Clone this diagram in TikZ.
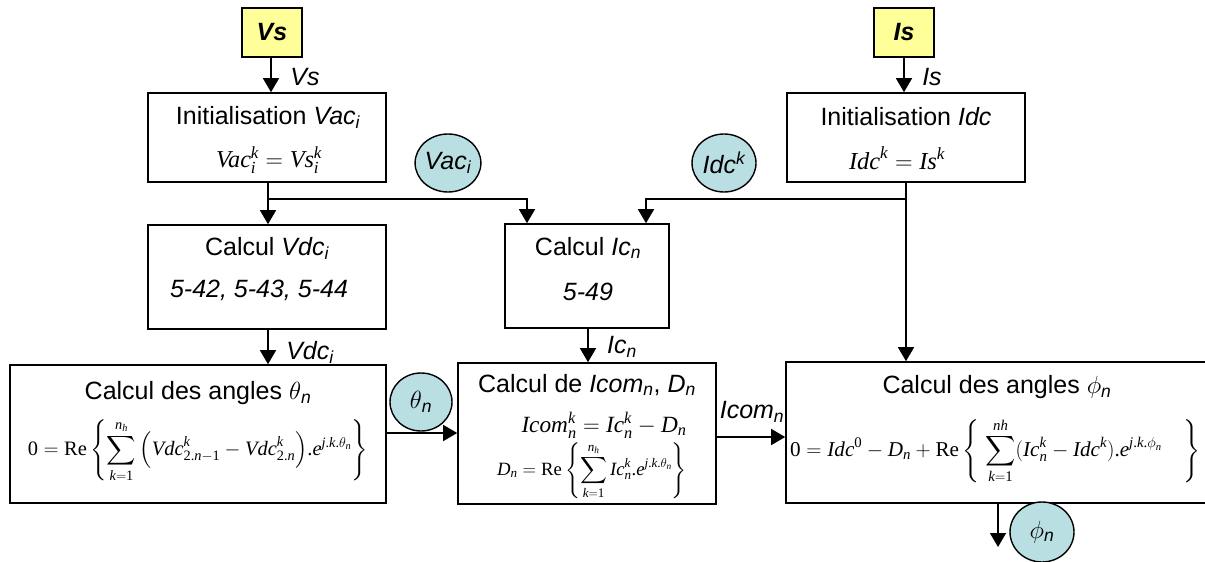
\documentclass[tikz,border=0pt]{standalone}
\usepackage{amsmath}
\usepackage[no-math]{fontspec}
\setmainfont{Liberation Sans}
\newfontfamily\eqserif{Liberation Serif}
\usepackage{graphicx}
\usetikzlibrary{arrows.meta,shapes.geometric,calc}
\newcommand{\ev}[1]{\text{\eqserif\itshape #1}}
\newcommand{\er}[1]{\text{\eqserif #1}}
\definecolor{inputyellow}{HTML}{FFFF99}
\definecolor{varblue}{HTML}{B9DFE2}
\tikzset{
  every node/.style={font=\fontsize{25}{30}\selectfont, inner sep=0pt},
  blockbox/.style={draw, line width=1.6pt, rectangle},
  inbox/.style={draw, line width=1.6pt, rectangle, fill=inputyellow, minimum width=60pt, minimum height=49pt},
  varcirc/.style={draw, line width=1.4pt, ellipse, fill=varblue, minimum width=64pt, minimum height=58pt},
  arr/.style={line width=1.4pt, -{Triangle[width=16pt,length=14pt]}},
  plain/.style={line width=1.4pt},
}
\begin{document}
\begin{tikzpicture}[x=1pt,y=-1pt]
\useasboundingbox (0,0) rectangle (1205,562);
\clip (0,0) rectangle (1205,562);
% inputs
\node[inbox] (vs) at (272,32.5) {\textbf{\textit{Vs}}};
\node[inbox] (is) at (904,32.5) {\textbf{\textit{Is}}};
% boxes
\node[blockbox, minimum width=238pt, minimum height=89pt] (initvac) at (267,137.5) {};
\node[blockbox, minimum width=238pt, minimum height=89pt] (initidc) at (906,137.5) {};
\node[blockbox, minimum width=238pt, minimum height=104pt] (calcvdc) at (267,277) {};
\node[blockbox, minimum width=164pt, minimum height=104pt] (calcic) at (587,276) {};
\node[blockbox, minimum width=376pt, minimum height=138pt] (theta) at (198,434) {};
\node[blockbox, minimum width=258pt, minimum height=141pt] (icom) at (587,433.5) {};
\node[blockbox, minimum width=429pt, minimum height=141pt] (phi) at (1000.5,432.5) {};
% texts in boxes
\node (t1) at (268,117) {Initialisation \textit{Vac\textsubscript{i}}};
\node (e1) at (269,160) {\resizebox{106pt}{!}{$\ev{Vac}_{\ev{i}}^{\ev{k}} = \ev{Vs}_{\ev{i}}^{\ev{k}}$}};
\node (t2) at (906,117) {Initialisation \textit{Idc}};
\node (e2) at (897,158) {\resizebox{96pt}{!}{$\ev{Idc}^{\ev{k}} = \ev{Is}^{\ev{k}}$}};
\node (t3) at (267,248) {Calcul \textit{Vdc\textsubscript{i}}};
\node (e3) at (259,290) {\textit{5-42, 5-43, 5-44}};
\node (t4) at (588,248) {Calcul \textit{Ic\textsubscript{n}}};
\node (e4) at (588,292) {\textit{5-49}};
\node (t5) at (198,393) {Calcul des angles $\theta$\textsubscript{\textit{n}}};
\node (e5) at (198,451) {\resizebox{340pt}{!}{$\displaystyle \er{0}=\er{Re}\left\{\sum_{\ev{k}=\er{1}}^{\ev{n}_{\ev{h}}}\left(\ev{Vdc}^{\ev{k}}_{\er{2.}\ev{n}-\er{1}}-\ev{Vdc}^{\ev{k}}_{\er{2.}\ev{n}}\right)\!\er{.}\ev{e}^{\ev{j}\er{.}\ev{k}\er{.}\theta_{\ev{n}}}\right\}$}};
\node (t6) at (587,385) {Calcul de \textit{Icom\textsubscript{n}}, \textit{D\textsubscript{n}}};
\node (e6) at (604,425) {\resizebox{165pt}{!}{$\ev{Icom}_{\ev{n}}^{\ev{k}} = \ev{Ic}_{\ev{n}}^{\ev{k}} - \ev{D}_{\ev{n}}$}};
\node (e7) at (592,471) {\resizebox{190pt}{!}{$\displaystyle \ev{D}_{\ev{n}}=\er{Re}\left\{\sum_{\ev{k}=\er{1}}^{\ev{n}_{\ev{h}}} \ev{Ic}_{\ev{n}}^{\ev{k}}\er{.}\ev{e}^{\ev{j}\er{.}\ev{k}\er{.}\theta_{\ev{n}}}\right\}$}};
\node (t8) at (997,387) {Calcul des angles $\phi$\textsubscript{\textit{n}}};
\node (e8) at (995,451) {\resizebox{410pt}{!}{$\displaystyle \er{0}=\ev{Idc}^{\er{0}}-\ev{D}_{\ev{n}}+\er{Re}\left\{\;\sum_{\ev{k}=\er{1}}^{\ev{nh}}(\ev{Ic}_{\ev{n}}^{\ev{k}}-\ev{Idc}^{\ev{k}})\er{.}\ev{e}^{\ev{j}\er{.}\ev{k}\er{.}\phi_{\ev{n}}}\quad\right\}$}};
% variable circles
\node[varcirc] (vacc) at (448,163) {\textit{Vac\textsubscript{i}}};
\node[varcirc] (idcc) at (724,163) {\textit{Idc\textsuperscript{k}}};
\node[varcirc, minimum width=62pt] (thetac) at (421,402) {$\theta$\textsubscript{\textit{n}}};
\node[varcirc, minimum height=60pt] (phic) at (1042,532) {$\phi$\textsubscript{\textit{n}}};
% connectors
\coordinate (jv) at (268,199);
\coordinate (phiout) at (998,547);
\draw[arr] (vs.south -| 271,0) -- (initvac.north -| 271,0);
\draw[arr] (is.south) -- (is.south |- initidc.north);
\draw[plain] (initvac.south -| jv) -- (jv);
\draw[arr] (jv) -- (jv |- calcvdc.north);
\draw[arr] (jv) -| ([xshift=-60pt]calcic.north);
\draw[arr] (initidc.south) -- (initidc.south |- phi.north);
\draw[arr] (initidc.south |- jv) -| ([xshift=59pt]calcic.north);
\draw[arr] (calcvdc.south -| jv) -- (jv |- theta.north);
\draw[arr] ([xshift=1pt]calcic.south) -- ([xshift=1pt]calcic.south |- icom.north);
\draw[arr] ([yshift=1pt]theta.east) -- ([yshift=1pt]theta.east -| icom.west);
\draw[arr] ([yshift=-3.5pt]icom.east) -- ([yshift=-3.5pt]icom.east -| phi.west);
\draw[arr] (phi.south -| phiout) -- (phiout);
% connector labels
\node (lvs) at (305,77) {\textit{Vs}};
\node (lis) at (932,77) {\textit{Is}};
\node (lvdc) at (310,352) {\textit{Vdc\textsubscript{i}}};
\node (lic) at (622,347) {\textit{Ic\textsubscript{n}}};
\node (licom) at (752,412) {\textit{Icom\textsubscript{n}}};
\end{tikzpicture}
\end{document}
